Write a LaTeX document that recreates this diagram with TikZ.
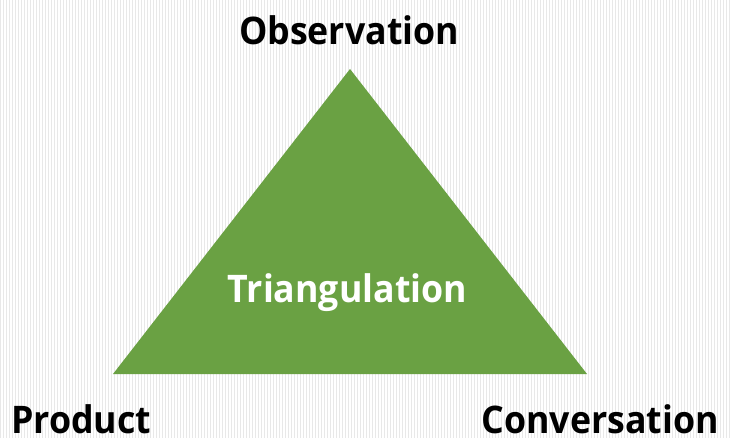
\documentclass[tikz,border=0pt]{standalone}
\usepackage{fontspec}
\setmainfont{Open Sans}
\usetikzlibrary{patterns}
\definecolor{trigreen}{HTML}{6AA143}
\definecolor{bgline}{HTML}{E8E8E8}
\tikzset{
  lbl/.style={font=\bfseries\fontsize{38}{40}\selectfont, inner sep=0pt, text depth=0pt, text=black, xscale=0.94},
  centerlbl/.style={lbl, text=white},
}
\begin{document}
\begin{tikzpicture}[x=1pt,y=-1pt]
\useasboundingbox (0,0) rectangle (730,438);
\fill[white] (0,0) rectangle (730,438);
\fill[pattern=vertical lines, pattern color=bgline] (0,0) rectangle (730,438);
\coordinate (apex) at (350,69);
\coordinate (bl) at (113,374);
\coordinate (br) at (587,374);
\fill[trigreen] (apex) -- (br) -- (bl) -- cycle;
\node[lbl, anchor=base] (obs) at (349,45) {Observation};
\node[lbl, anchor=base west] (prod) at (11,433) {Product};
\node[lbl, anchor=base east] (conv) at (719,433) {Conversation};
\node[centerlbl, anchor=base] (tri) at (347.5,302) {Triangulation};
\end{tikzpicture}
\end{document}
